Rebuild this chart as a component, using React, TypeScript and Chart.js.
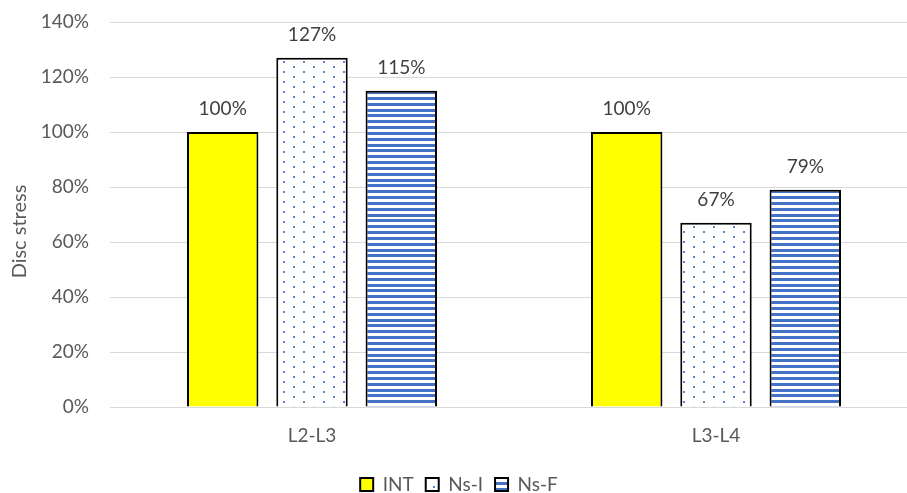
import { useEffect, useRef } from 'react';
import { Chart, registerables } from 'chart.js';

Chart.register(...registerables);

// Disc stress relative to the intact model, per spinal level
const categories = ['L2-L3', 'L3-L4'];
const seriesNames = ['INT', 'Ns-I', 'Ns-F'];
const intValues = [100, 100];
const nsIValues = [127, 67];
const nsFValues = [115, 79];
const axisTitle = 'Disc stress';

const FONT = 'Lato';
const TEXT_COLOR = '#595959';
const LABEL_COLOR = '#404040';
const GRID_COLOR = '#d9d9d9';
const BLUE = '#4472C4';
const YELLOW = '#FFFF00';

function dotPattern(ctx: CanvasRenderingContext2D) {
  const c = document.createElement('canvas');
  c.width = 20;
  c.height = 10;
  const g = c.getContext('2d')!;
  g.fillStyle = '#ffffff';
  g.fillRect(0, 0, 20, 10);
  g.fillStyle = '#5b84cd';
  g.fillRect(3, 1, 2, 2);
  g.fillRect(13, 6, 2, 2);
  return ctx.createPattern(c, 'repeat')!;
}

function stripePattern(ctx: CanvasRenderingContext2D) {
  const h = 35;
  const c = document.createElement('canvas');
  c.width = 4;
  c.height = h;
  const g = c.getContext('2d')!;
  g.fillStyle = '#ffffff';
  g.fillRect(0, 0, 4, h);
  g.fillStyle = BLUE;
  for (let i = 0; i < 6; i++) {
    const y = Math.round(3.5 + (i * h) / 6) % h;
    g.fillRect(0, y, 4, 3);
    if (y + 3 > h) g.fillRect(0, y - h, 4, 3);
  }
  return ctx.createPattern(c, 'repeat')!;
}

const valueLabels = {
  id: 'valueLabels',
  afterDatasetsDraw(chart: Chart) {
    const { ctx } = chart;
    ctx.save();
    ctx.font = `19px ${FONT}`;
    ctx.fillStyle = LABEL_COLOR;
    ctx.textAlign = 'center';
    ctx.textBaseline = 'alphabetic';
    chart.data.datasets.forEach((ds, di) => {
      chart.getDatasetMeta(di).data.forEach((bar: any, i: number) => {
        ctx.fillText(`${ds.data[i]}%`, bar.x, bar.y - 17);
      });
    });
    ctx.restore();
  },
};

const yAxisTitle = {
  id: 'yAxisTitle',
  afterDraw(chart: Chart) {
    const { ctx, chartArea } = chart;
    ctx.save();
    ctx.font = `20px ${FONT}`;
    ctx.fillStyle = TEXT_COLOR;
    ctx.textAlign = 'center';
    ctx.textBaseline = 'middle';
    ctx.translate(20, (chartArea.top + chartArea.bottom) / 2 + 17);
    ctx.rotate(-Math.PI / 2);
    ctx.fillText(axisTitle, 0, 0);
    ctx.restore();
  },
};

export default function App() {
  const canvasRef = useRef<HTMLCanvasElement>(null);

  useEffect(() => {
    let chart: Chart | null = null;
    let cancelled = false;
    const build = () => {
      if (cancelled || !canvasRef.current) return;
      const ctx = canvasRef.current.getContext('2d')!;
      Chart.defaults.font.family = FONT;
      chart = new Chart(ctx, {
        type: 'bar',
        data: {
          labels: categories,
          datasets: [
            { label: seriesNames[0], data: intValues, backgroundColor: YELLOW },
            { label: seriesNames[1], data: nsIValues, backgroundColor: dotPattern(ctx) },
            { label: seriesNames[2], data: nsFValues, backgroundColor: stripePattern(ctx) },
          ].map((d) => ({
            ...d,
            borderColor: '#000000',
            borderWidth: 2,
            borderSkipped: 'start',
            categoryPercentage: 0.663,
            barPercentage: 0.8,
          })),
        },
        options: {
          responsive: false,
          animation: false,
          layout: { padding: { top: 22, left: 0, right: 0, bottom: 0 } },
          plugins: {
            tooltip: { enabled: false },
            legend: {
              position: 'bottom',
              labels: {
                color: TEXT_COLOR,
                font: { size: 19, family: FONT },
                boxWidth: 13,
                boxHeight: 13,
                padding: 12,
              },
            },
          },
          scales: {
            x: {
              offset: true,
              z: 1,
              grid: { display: false, drawTicks: false },
              border: { display: true, color: GRID_COLOR, width: 1 },
              ticks: { color: TEXT_COLOR, font: { size: 19, family: FONT }, padding: 17 },
              afterFit: (s: any) => {
                s.height = 56;
              },
            },
            y: {
              min: 0,
              max: 140,
              ticks: {
                stepSize: 20,
                color: TEXT_COLOR,
                font: { size: 19, family: FONT },
                padding: 0,
                callback: (v: any) => `${v}%`,
              },
              grid: {
                color: GRID_COLOR,
                lineWidth: 1,
                drawTicks: true,
                tickLength: 21,
                tickColor: 'rgba(0,0,0,0)',
              },
              border: { display: false },
              afterFit: (s: any) => {
                s.width = 110;
              },
            },
          },
        },
        plugins: [valueLabels, yAxisTitle],
      } as any);
    };
    document.fonts.load(`19px ${FONT}`).then(build, build);
    return () => {
      cancelled = true;
      if (chart) chart.destroy();
    };
  }, []);

  return (
    <div
      style={{
        position: 'absolute',
        left: 0,
        top: 0,
        width: 907,
        height: 493,
        overflow: 'hidden',
        background: '#ffffff',
      }}
    >
      <canvas ref={canvasRef} width={918} height={504} style={{ display: 'block', width: 918, height: 504 }} />
    </div>
  );
}
